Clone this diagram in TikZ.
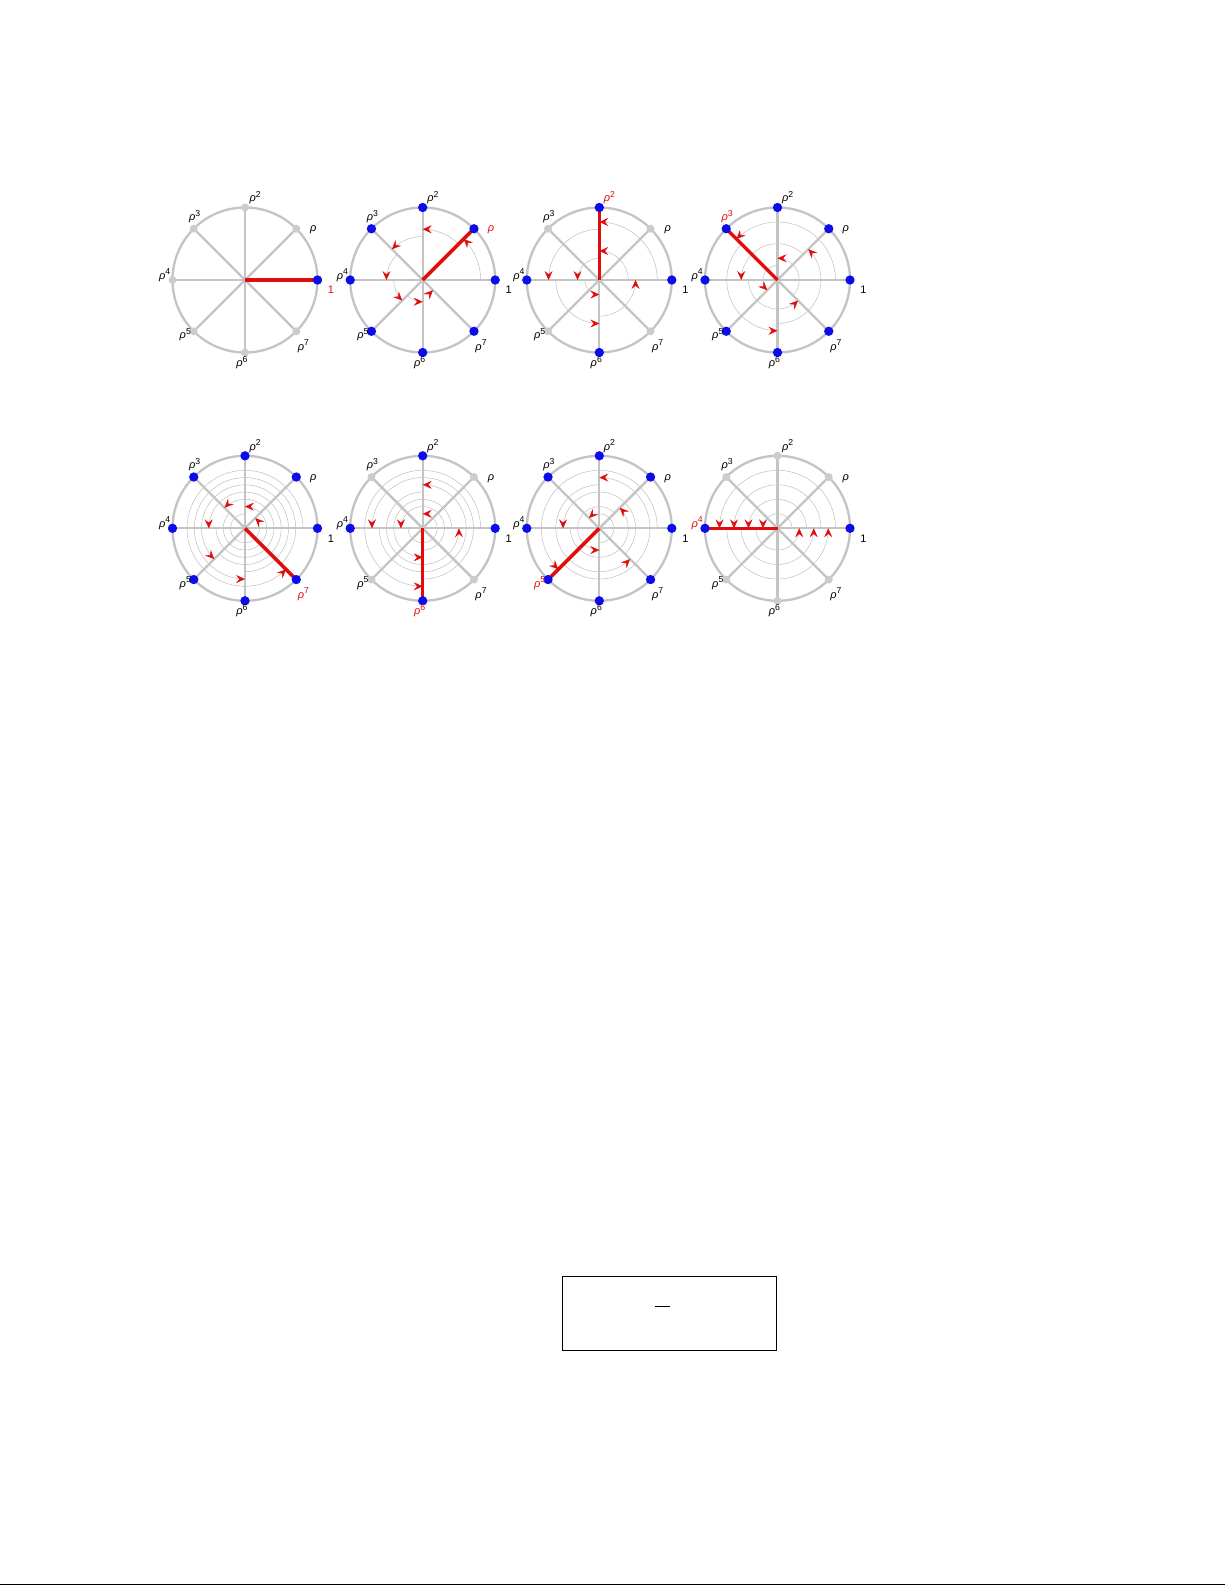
\documentclass[tikz,border=0pt]{standalone}
\usepackage{fontspec}
\setmainfont{Liberation Sans}
\usetikzlibrary{arrows.meta}
\definecolor{myred}{RGB}{225,12,12}
\definecolor{myblue}{RGB}{12,12,235}
\definecolor{ringgray}{RGB}{196,196,196}
\definecolor{dotgray}{RGB}{204,204,204}
\definecolor{arcgray}{RGB}{190,190,190}

\newcommand\rl[1]{\textit{ρ}\raisebox{2.7pt}{\fontsize{5.2pt}{6pt}\selectfont #1}}

\tikzset{
  rim/.style={draw=ringgray, line width=1.4pt},
  spoke/.style={draw=ringgray, line width=1.4pt},
  redseg/.style={draw=myred, line width=2.1pt},
  orbit/.style={draw=arcgray, line width=0.3pt},
  orbittip/.style={draw=arcgray, line width=0.3pt,
    -{Stealth[length=5.4pt,width=4.8pt,inset=2pt,color=myred,fill=myred]}},
  bluedot/.style={circle, fill=myblue, inner sep=0pt, minimum size=5.6pt},
  graydot/.style={circle, fill=dotgray, inner sep=0pt, minimum size=4.8pt},
  lbl/.style={inner sep=0pt, font=\fontsize{6.6pt}{7pt}\selectfont},
}

% #1 name, #2 cx, #3 cy, #4 k, #5 gcd step
\newcommand\drawpanel[5]{%
  \begin{scope}[shift={(#2,#3)}, yscale=-1]
    \coordinate (#1c) at (0,0);
    \foreach \j in {0,...,7} { \coordinate (#1d\j) at (45*\j:72.5); }
    \ifnum#4>0
      \foreach \st in {1,...,7} {
        \pgfmathsetmacro\angA{mod(45*#4*(\st-1),360)}
        \pgfmathsetmacro\angB{\angA+45*#4}
        \pgfmathsetmacro\rr{72.5*(0.9-0.1*\st)}
        \draw[orbit] (\angA:\rr) arc[start angle=\angA, end angle=\angB, radius=\rr];
      }
    \fi
    \draw[rim] (#1c) circle[radius=72.5];
    \foreach \j in {0,...,3} {
      \pgfmathtruncatemacro\opp{\j+4}
      \draw[spoke] (#1d\j) -- (#1d\opp);
    }
    \draw[redseg] (#1c) -- (#1d#4);
    \ifnum#4>0
      \foreach \st in {1,...,7} {
        \pgfmathsetmacro\angB{mod(45*#4*\st,360)}
        \pgfmathsetmacro\angA{\angB-3}
        \pgfmathsetmacro\rr{72.5*(0.9-0.1*\st)}
        \draw[orbittip] (\angA:\rr) arc[start angle=\angA, end angle=\angB, radius=\rr];
      }
    \fi
    \foreach \j in {0,...,7} {
      \pgfmathtruncatemacro\isb{mod(\j,#5)==0 ? 1 : 0}
      \ifnum\isb=1
        \node[bluedot] (#1n\j) at (#1d\j) {};
      \else
        \node[graydot] (#1n\j) at (#1d\j) {};
      \fi
    }
    \foreach \j/\ang/\rad/\txt in {0/-6.6/86.6/1, 1/36.2/84.7/\textit{ρ}, 2/83/83/\rl{2},
        3/128.4/81/\rl{3}, 4/176.4/80.5/\rl{4}, 5/222.5/81/\rl{5},
        6/267.9/82.5/\rl{6}, 7/311.5/88/\rl{7}} {
      \ifnum\j=#4 \def\lc{myred}\else\def\lc{black}\fi
      \node[lbl, text=\lc] (#1l\j) at (\ang:\rad) {\txt};
    }
  \end{scope}
}

\begin{document}
\begin{tikzpicture}[x=0.6pt, y=-0.6pt]
  \useasboundingbox (0,0) rectangle (1225,1585);
  \drawpanel{pa}{245}{280}{0}{8}
  \drawpanel{pb}{422.7}{280}{1}{1}
  \drawpanel{pc}{599.3}{280}{2}{2}
  \drawpanel{pd}{777.5}{280}{3}{1}
  \drawpanel{pe}{245}{528.3}{7}{1}
  \drawpanel{pf}{422.7}{528.3}{6}{2}
  \drawpanel{pg}{599.3}{528.3}{5}{1}
  \drawpanel{ph}{777.5}{528.3}{4}{4}

  \node[draw, line width=0.6pt, minimum width=128.4pt, minimum height=44.2pt, inner sep=0pt] (box) at (669.3,1313.2) {};
  \coordinate (fbl) at (655,1306.3);
  \coordinate (fbr) at (670,1306.3);
  \draw[line width=0.6pt] (fbl) -- (fbr);

  \coordinate (bl) at (0,1584.3);
  \coordinate (br) at (1225,1584.3);
  \draw[line width=0.8pt] (bl) -- (br);
\end{tikzpicture}
\end{document}
